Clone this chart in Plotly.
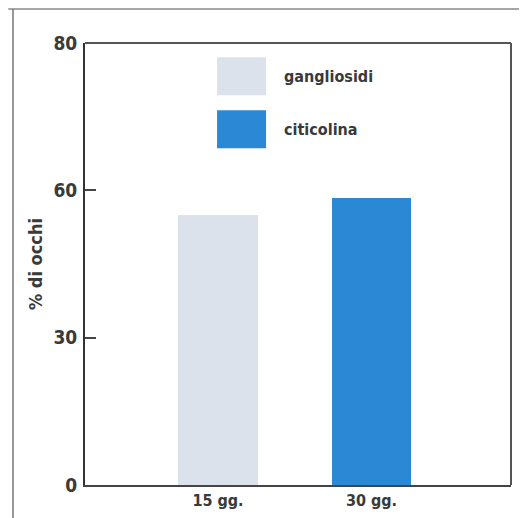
import plotly.graph_objects as go

categories = ["15 gg.", "30 gg."]
series_names = ["gangliosidi", "citicolina"]
values = [55, 58.5]
colors = ["#dce2eb", "#2b88d4"]
ytick_vals = [0, 30, 60, 90]
ytick_text = ["0", "30", "60", "80"]

FONT = "DejaVu Sans Condensed, Liberation Sans Narrow, sans-serif"
TXT = "#3a3a3a"

fig = go.Figure()
for i, (cat, name, val, col) in enumerate(zip(categories, series_names, values, colors)):
    fig.add_trace(go.Bar(
        x=[cat], y=[val], name=name,
        marker=dict(color=col, line=dict(width=0)),
        width=0.52, showlegend=False,
    ))

# custom legend: large swatches + labels
sw = [(0.968, 0.882), (0.848, 0.762)]
for (y1, y0), name, col in zip(sw, series_names, colors):
    fig.add_shape(type="rect", xref="paper", yref="paper",
                  x0=0.310, x1=0.425, y0=y0, y1=y1,
                  fillcolor=col, line=dict(width=0), layer="above")
    fig.add_annotation(xref="paper", yref="paper", x=0.462, y=(y0 + y1) / 2,
                       text=name, showarrow=False, xanchor="left", yanchor="middle",
                       font=dict(family=FONT, size=16, color=TXT, weight="bold"))

# plot frame (top and right)
fig.add_shape(type="line", xref="paper", yref="paper", x0=0, x1=1, y0=1, y1=1,
              line=dict(color="#555555", width=2))
fig.add_shape(type="line", xref="paper", yref="paper", x0=1, x1=1, y0=0, y1=1,
              line=dict(color="#555555", width=2))
# outer page frame
fig.add_shape(type="line", xref="paper", yref="paper", x0=-0.18, x1=1.05, y0=1.077, y1=1.077,
              line=dict(color="#888888", width=1.5))
fig.add_shape(type="line", xref="paper", yref="paper", x0=-0.169, x1=-0.169, y0=-0.08, y1=1.077,
              line=dict(color="#777777", width=1.5))

fig.update_layout(
    width=527, height=518,
    margin=dict(l=77, r=24, t=35, b=41),
    paper_bgcolor="white", plot_bgcolor="white",
    font=dict(family=FONT, color=TXT),
    bargap=0,
    xaxis=dict(
        type="category", range=[-0.866, 1.909],
        showline=True, linecolor="#444444", linewidth=2,
        ticks="", showgrid=False, zeroline=False,
        tickfont=dict(family=FONT, size=16, color=TXT, weight="bold"),
    ),
    yaxis=dict(
        range=[0, 90], tickvals=ytick_vals, ticktext=ytick_text,
        showline=True, linecolor="#333333", linewidth=2,
        ticks="inside", ticklen=11, tickcolor="#444444", tickwidth=2,
        ticklabelstandoff=2,
        showgrid=False, zeroline=False,
        tickfont=dict(family=FONT, size=19, color=TXT, weight="bold"),
        title=dict(text="% di occhi", standoff=6,
                   font=dict(family=FONT, size=18, color=TXT, weight="bold")),
    ),
)

fig.write_html("out.html")
